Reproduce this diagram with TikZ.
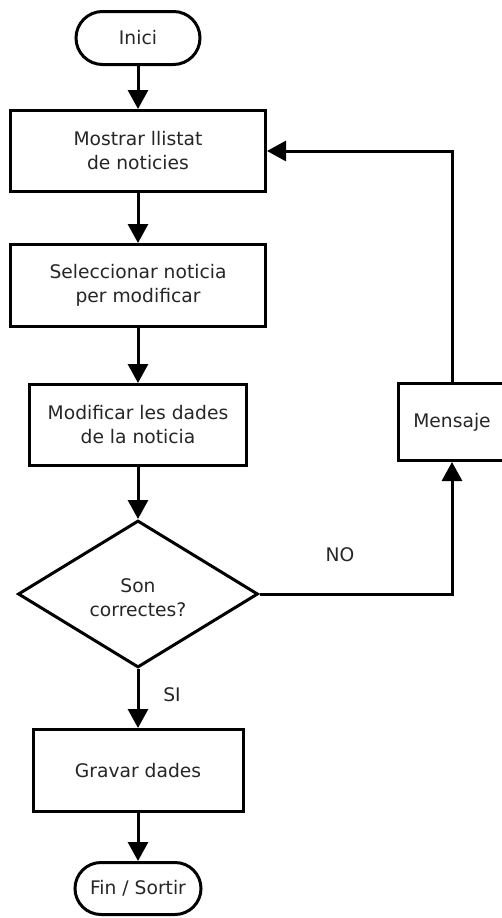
\documentclass[tikz,border=0pt]{standalone}
\usepackage{fontspec}
\setmainfont{DejaVu Sans}
\usetikzlibrary{arrows.meta,shapes.geometric,shapes.misc}
\begin{document}
\begin{tikzpicture}[x=1pt,y=-1pt,
  every node/.style={font=\fontsize{18.7}{24}\selectfont, inner sep=0pt, align=center, text=black!85},
  box/.style={draw, line width=3pt, rectangle},
  term/.style={draw, line width=3pt, rounded rectangle},
  dec/.style={draw, line width=3pt, diamond},
  conn/.style={line width=3pt, -{Triangle[length=19pt,width=20pt]}}]
\clip (0,0) rectangle (502,918);
\fill[white] (0,0) rectangle (502,918);

\node[term, minimum width=124, minimum height=53] (start) at (138,38) {Inici};
\node[box, minimum width=255, minimum height=81] (show) at (138,151) {Mostrar llistat\\de noticies};
\node[box, minimum width=255, minimum height=82] (sel) at (138,285.5) {Seleccionar noticia\\per modificar};
\node[box, minimum width=217, minimum height=81] (mod) at (138,425) {Modificar les dades\\de la noticia};
\node[dec, minimum width=240, minimum height=147] (dia) at (138,594) {};
\node (diatext) at (138,598) {Son\\correctes?};
\node[box, minimum width=107, minimum height=77] (msg) at (452,422) {Mensaje};
\node[box, minimum width=210, minimum height=82] (save) at (138,770.5) {Gravar dades};
\node[term, minimum width=126, minimum height=52] (end) at (138,888.5) {Fin / Sortir};

\node (no) at (340,555) {NO};
\node (si) at (172,695) {SI};

\draw[conn] (start) -- (show);
\draw[conn] (show) -- (sel);
\draw[conn] (sel) -- (mod);
\draw[conn] (mod) -- (dia);
\draw[conn] (dia) -- (save);
\draw[conn] (save) -- (end);
\draw[conn] (dia.east) -| (msg.south);
\draw[conn] (msg.north) |- (show.east);
\end{tikzpicture}
\end{document}
